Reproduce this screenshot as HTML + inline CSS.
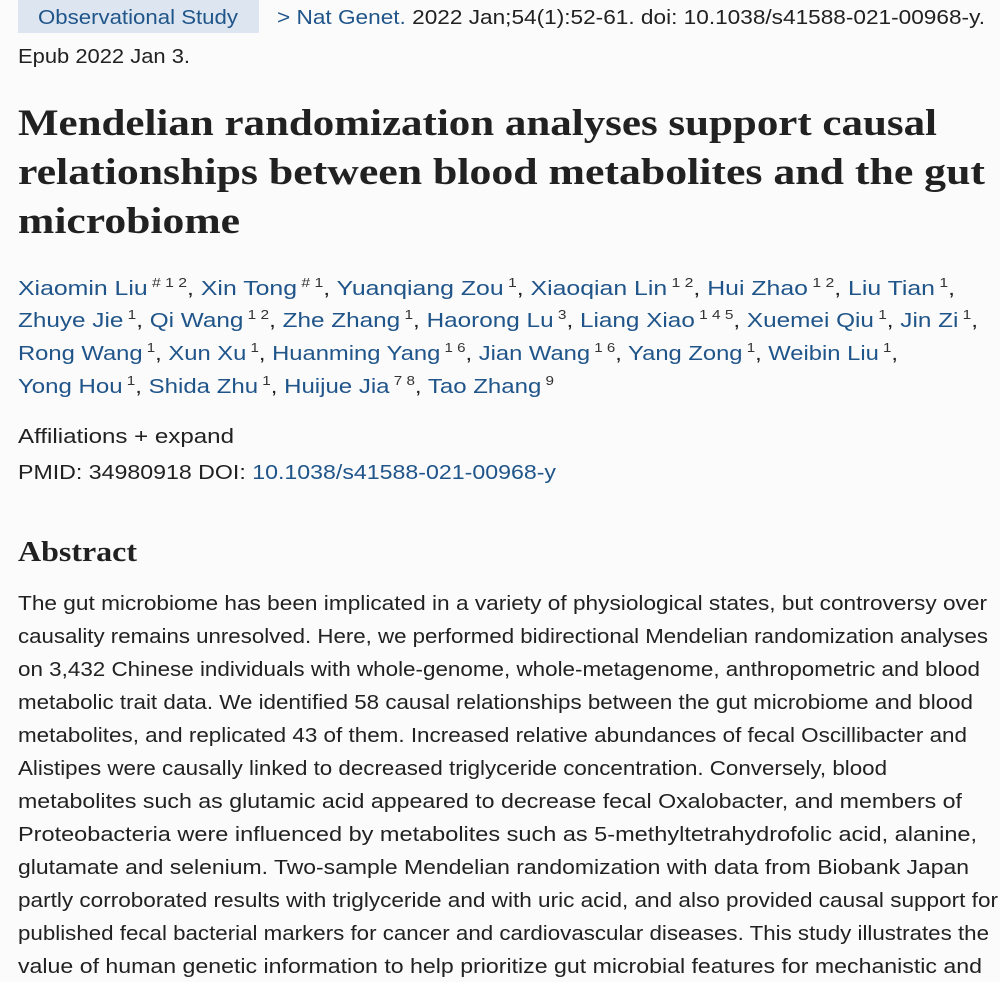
<!DOCTYPE html>
<html><head><meta charset="utf-8"><style>
html,body{margin:0;padding:0;background:#fbfbfc;width:1000px;height:982px;overflow:hidden}
svg{display:block}
.s{font-family:"Liberation Sans",sans-serif;font-size:20.5px;fill:#212121}
.b{fill:#20558a}
.sup{font-size:13px;fill:#333}
.t{font-family:"Liberation Serif",serif;font-weight:bold;font-size:37px;fill:#212121}
</style></head><body>
<svg width="1000" height="982" viewBox="0 0 1000 982">
<rect x="0" y="0" width="1000" height="982" fill="#fbfbfc"/>
<rect x="18" y="0" width="241" height="33" fill="#dde6f0"/>
<text class="s b" x="38" y="24" textLength="200" lengthAdjust="spacingAndGlyphs">Observational Study</text>
<text class="s" x="277" y="24" textLength="708" lengthAdjust="spacingAndGlyphs"><tspan class="b">&gt; Nat Genet.</tspan> 2022 Jan;54(1):52-61. doi: 10.1038/s41588-021-00968-y.</text>
<text class="s" x="18" y="63" textLength="172" lengthAdjust="spacingAndGlyphs">Epub 2022 Jan 3.</text>

<text class="t" x="18" y="135" textLength="919" lengthAdjust="spacingAndGlyphs">Mendelian randomization analyses support causal</text>
<text class="t" x="18" y="184" textLength="967" lengthAdjust="spacingAndGlyphs">relationships between blood metabolites and the gut</text>
<text class="t" x="18" y="233" textLength="222" lengthAdjust="spacingAndGlyphs">microbiome</text>

<text class="s" x="18" y="295" textLength="937" lengthAdjust="spacingAndGlyphs"><tspan class="b">Xiaomin Liu</tspan><tspan class="sup" dy="-8"> # 1 2</tspan><tspan dy="8">, </tspan><tspan class="b">Xin Tong</tspan><tspan class="sup" dy="-8"> # 1</tspan><tspan dy="8">, </tspan><tspan class="b">Yuanqiang Zou</tspan><tspan class="sup" dy="-8"> 1</tspan><tspan dy="8">, </tspan><tspan class="b">Xiaoqian Lin</tspan><tspan class="sup" dy="-8"> 1 2</tspan><tspan dy="8">, </tspan><tspan class="b">Hui Zhao</tspan><tspan class="sup" dy="-8"> 1 2</tspan><tspan dy="8">, </tspan><tspan class="b">Liu Tian</tspan><tspan class="sup" dy="-8"> 1</tspan><tspan dy="8">,</tspan></text>
<text class="s" x="18" y="327" textLength="960" lengthAdjust="spacingAndGlyphs"><tspan class="b">Zhuye Jie</tspan><tspan class="sup" dy="-8"> 1</tspan><tspan dy="8">, </tspan><tspan class="b">Qi Wang</tspan><tspan class="sup" dy="-8"> 1 2</tspan><tspan dy="8">, </tspan><tspan class="b">Zhe Zhang</tspan><tspan class="sup" dy="-8"> 1</tspan><tspan dy="8">, </tspan><tspan class="b">Haorong Lu</tspan><tspan class="sup" dy="-8"> 3</tspan><tspan dy="8">, </tspan><tspan class="b">Liang Xiao</tspan><tspan class="sup" dy="-8"> 1 4 5</tspan><tspan dy="8">, </tspan><tspan class="b">Xuemei Qiu</tspan><tspan class="sup" dy="-8"> 1</tspan><tspan dy="8">, </tspan><tspan class="b">Jin Zi</tspan><tspan class="sup" dy="-8"> 1</tspan><tspan dy="8">,</tspan></text>
<text class="s" x="18" y="360" textLength="880" lengthAdjust="spacingAndGlyphs"><tspan class="b">Rong Wang</tspan><tspan class="sup" dy="-8"> 1</tspan><tspan dy="8">, </tspan><tspan class="b">Xun Xu</tspan><tspan class="sup" dy="-8"> 1</tspan><tspan dy="8">, </tspan><tspan class="b">Huanming Yang</tspan><tspan class="sup" dy="-8"> 1 6</tspan><tspan dy="8">, </tspan><tspan class="b">Jian Wang</tspan><tspan class="sup" dy="-8"> 1 6</tspan><tspan dy="8">, </tspan><tspan class="b">Yang Zong</tspan><tspan class="sup" dy="-8"> 1</tspan><tspan dy="8">, </tspan><tspan class="b">Weibin Liu</tspan><tspan class="sup" dy="-8"> 1</tspan><tspan dy="8">,</tspan></text>
<text class="s" x="18" y="393" textLength="536" lengthAdjust="spacingAndGlyphs"><tspan class="b">Yong Hou</tspan><tspan class="sup" dy="-8"> 1</tspan><tspan dy="8">, </tspan><tspan class="b">Shida Zhu</tspan><tspan class="sup" dy="-8"> 1</tspan><tspan dy="8">, </tspan><tspan class="b">Huijue Jia</tspan><tspan class="sup" dy="-8"> 7 8</tspan><tspan dy="8">, </tspan><tspan class="b">Tao Zhang</tspan><tspan class="sup" dy="-8"> 9</tspan></text>

<text class="s" x="18" y="443" textLength="216" lengthAdjust="spacingAndGlyphs">Affiliations  + expand</text>
<text class="s" x="18" y="479" textLength="538" lengthAdjust="spacingAndGlyphs">PMID: 34980918   DOI: <tspan class="b">10.1038/s41588-021-00968-y</tspan></text>

<text class="t" x="18" y="561" style="font-size:28px" textLength="119" lengthAdjust="spacingAndGlyphs">Abstract</text>

<g class="s">
<text x="18" y="610" textLength="969" lengthAdjust="spacingAndGlyphs">The gut microbiome has been implicated in a variety of physiological states, but controversy over</text>
<text x="18" y="643" textLength="970" lengthAdjust="spacingAndGlyphs">causality remains unresolved. Here, we performed bidirectional Mendelian randomization analyses</text>
<text x="18" y="676" textLength="962" lengthAdjust="spacingAndGlyphs">on 3,432 Chinese individuals with whole-genome, whole-metagenome, anthropometric and blood</text>
<text x="18" y="709" textLength="955" lengthAdjust="spacingAndGlyphs">metabolic trait data. We identified 58 causal relationships between the gut microbiome and blood</text>
<text x="18" y="742" textLength="949" lengthAdjust="spacingAndGlyphs">metabolites, and replicated 43 of them. Increased relative abundances of fecal Oscillibacter and</text>
<text x="18" y="775" textLength="869" lengthAdjust="spacingAndGlyphs">Alistipes were causally linked to decreased triglyceride concentration. Conversely, blood</text>
<text x="18" y="808" textLength="944" lengthAdjust="spacingAndGlyphs">metabolites such as glutamic acid appeared to decrease fecal Oxalobacter, and members of</text>
<text x="18" y="841" textLength="959" lengthAdjust="spacingAndGlyphs">Proteobacteria were influenced by metabolites such as 5-methyltetrahydrofolic acid, alanine,</text>
<text x="18" y="874" textLength="951" lengthAdjust="spacingAndGlyphs">glutamate and selenium. Two-sample Mendelian randomization with data from Biobank Japan</text>
<text x="18" y="907" textLength="980" lengthAdjust="spacingAndGlyphs">partly corroborated results with triglyceride and with uric acid, and also provided causal support for</text>
<text x="18" y="940" textLength="971" lengthAdjust="spacingAndGlyphs">published fecal bacterial markers for cancer and cardiovascular diseases. This study illustrates the</text>
<text x="18" y="973" textLength="964" lengthAdjust="spacingAndGlyphs">value of human genetic information to help prioritize gut microbial features for mechanistic and</text>
</g>
</svg>
</body></html>
